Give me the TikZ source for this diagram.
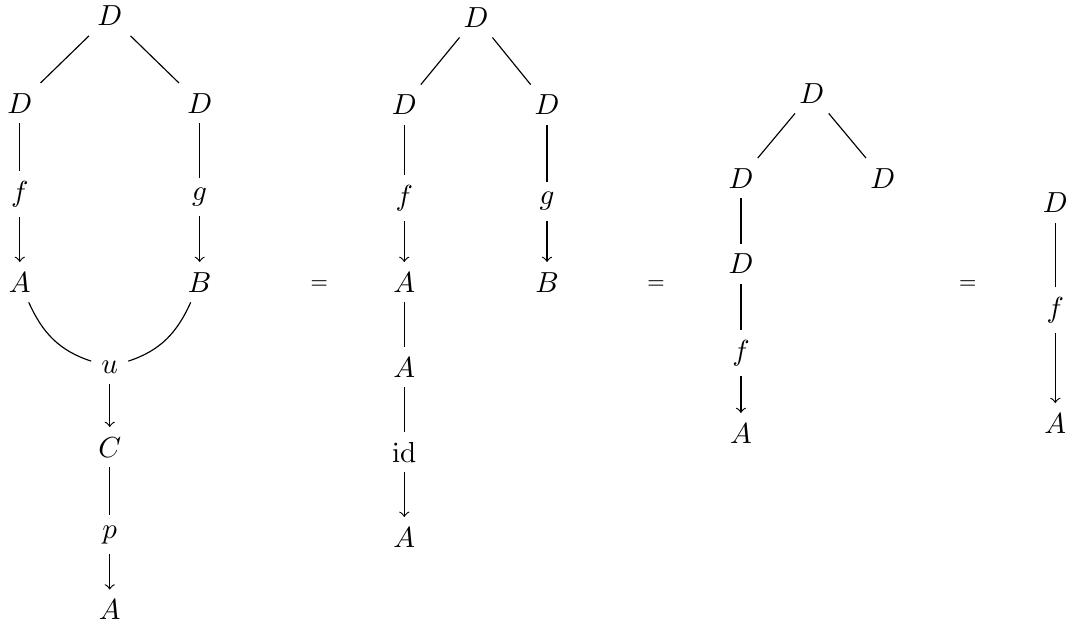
\documentclass[tikz,border=0pt]{standalone}
\usepackage{amssymb,amsmath}
\usepackage{tikz}
\tikzset{% looks of the equal signs and the arrows
        eqsign/.style={font=\scriptsize},
        flow/.style={->}
        }

\begin{document}
\begin{tikzpicture}
 \useasboundingbox (0,0) rectangle (12.92,7.6);
 % first diagram
 \node (tD1) at (1.33,7.41) {$D$};
 \node (lD1) at (0.24,6.35) {$D$};
 \node (rD1) at (2.42,6.35) {$D$};
 \node (f1) at (0.24,5.25) {$f$};
 \node (g1) at (2.42,5.21) {$g$};
 \node (A1) at (0.24,4.18) {$A$};
 \node (B1) at (2.42,4.18) {$B$};
 \node (u1) at (1.33,3.15) {$u$};
 \node (C1) at (1.33,2.18) {$C$};
 \node (p1) at (1.33,1.12) {$p$};
 \node (Ab1) at (1.33,0.21) {$A$};
 \draw (tD1) -- (lD1);
 \draw (tD1) -- (rD1);
 \draw (lD1) -- (f1);
 \draw[flow] (f1) -- (A1);
 \draw (rD1) -- (g1);
 \draw[flow] (g1) -- (B1);
 \draw (A1) to[out=-66,in=162] (u1);
 \draw (B1) to[out=-114,in=18] (u1);
 \draw[flow] (u1) -- (C1);
 \draw (C1) -- (p1);
 \draw[flow] (p1) -- (Ab1);
 \node[eqsign] (eq1) at (3.87,4.15) {$=$};
 % second diagram
 \node (tD2) at (5.77,7.39) {$D$};
 \node (lD2) at (4.90,6.33) {$D$};
 \node (rD2) at (6.63,6.33) {$D$};
 \node (f2) at (4.90,5.20) {$f$};
 \node (g2) at (6.63,5.16) {$g$};
 \node (A2) at (4.90,4.18) {$A$};
 \node (B2) at (6.63,4.18) {$B$};
 \node (Am2) at (4.90,3.15) {$A$};
 \node (id2) at (4.90,2.12) {$\mathrm{id}$};
 \node (Ab2) at (4.90,1.09) {$A$};
 \draw (tD2) -- (lD2);
 \draw (tD2) -- (rD2);
 \draw (lD2) -- (f2);
 \draw[flow] (f2) -- (A2);
 \draw (rD2) -- (g2);
 \draw[flow] (g2) -- (B2);
 \draw (A2) -- (Am2);
 \draw (Am2) -- (id2);
 \draw[flow] (id2) -- (Ab2);
 \node[eqsign] (eq2) at (7.95,4.15) {$=$};
 % third diagram
 \node (tD3) at (9.84,6.47) {$D$};
 \node (lD3) at (8.98,5.44) {$D$};
 \node (rD3) at (10.70,5.44) {$D$};
 \node (mD3) at (8.98,4.40) {$D$};
 \node (f3) at (8.98,3.32) {$f$};
 \node (A3) at (8.98,2.35) {$A$};
 \draw (tD3) -- (lD3);
 \draw (tD3) -- (rD3);
 \draw (lD3) -- (mD3);
 \draw (mD3) -- (f3);
 \draw[flow] (f3) -- (A3);
 \node[eqsign] (eq3) at (11.73,4.15) {$=$};
 % fourth diagram
 \node (D4) at (12.79,5.14) {$D$};
 \node (f4) at (12.79,3.84) {$f$};
 \node (A4) at (12.79,2.47) {$A$};
 \draw (D4) -- (f4);
 \draw[flow] (f4) -- (A4);
\end{tikzpicture}
\end{document}
